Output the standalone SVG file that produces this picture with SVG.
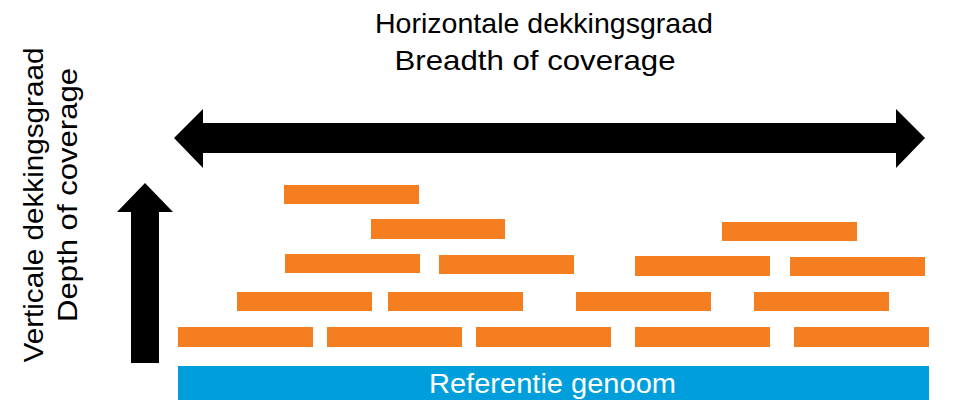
<svg xmlns="http://www.w3.org/2000/svg" width="957" height="420" viewBox="0 0 957 420">
<style>
.t{font-family:"Liberation Sans",Arial,sans-serif;font-size:28px;fill:#000}
.r{fill:#F47E20}
.ref{fill:#009FDB}
.rt{font-family:"Liberation Sans",Arial,sans-serif;font-size:27px;fill:#fff}
.ar{fill:#000}
</style>
<rect width="957" height="420" fill="#fff"/>
<g id="title">
<text class="t" x="544" y="33" text-anchor="middle" textLength="338" lengthAdjust="spacingAndGlyphs">Horizontale dekkingsgraad</text>
<text class="t" x="535" y="70" text-anchor="middle" textLength="281" lengthAdjust="spacingAndGlyphs">Breadth of coverage</text>
</g>
<g id="ylabel">
<text class="t" transform="translate(43,205) rotate(-90)" text-anchor="middle" textLength="315" lengthAdjust="spacingAndGlyphs">Verticale dekkingsgraad</text>
<text class="t" transform="translate(77,195) rotate(-90)" text-anchor="middle" textLength="254" lengthAdjust="spacingAndGlyphs">Depth of coverage</text>
</g>
<g id="connectors">
<polygon id="breadth-arrow" class="ar" points="174,138 203,109 203,123 896,123 896,109 925,138 896,168 896,153 203,153 203,168"/>
<polygon id="depth-arrow" class="ar" points="145,183 173,212 159,212 159,363 131,363 131,212 117,212"/>
</g>
<g id="reads">
<rect class="r" x="284" y="185" width="135" height="19"/>
<rect class="r" x="371" y="219" width="134" height="20"/>
<rect class="r" x="722" y="222" width="135" height="19"/>
<rect class="r" x="285" y="254" width="135" height="19"/>
<rect class="r" x="439" y="255" width="135" height="19"/>
<rect class="r" x="635" y="256" width="135" height="20"/>
<rect class="r" x="790" y="257" width="135" height="19"/>
<rect class="r" x="237" y="292" width="135" height="19"/>
<rect class="r" x="388" y="292" width="135" height="19"/>
<rect class="r" x="576" y="292" width="135" height="19"/>
<rect class="r" x="754" y="292" width="135" height="19"/>
<rect class="r" x="178" y="327" width="135" height="20"/>
<rect class="r" x="327" y="327" width="135" height="20"/>
<rect class="r" x="476" y="327" width="135" height="20"/>
<rect class="r" x="635" y="327" width="135" height="20"/>
<rect class="r" x="794" y="327" width="135" height="20"/>
</g>
<g id="reference">
<rect class="ref" x="178" y="366" width="751" height="34"/>
<text class="rt" x="552.5" y="393" text-anchor="middle" textLength="247" lengthAdjust="spacingAndGlyphs">Referentie genoom</text>
</g>
</svg>
